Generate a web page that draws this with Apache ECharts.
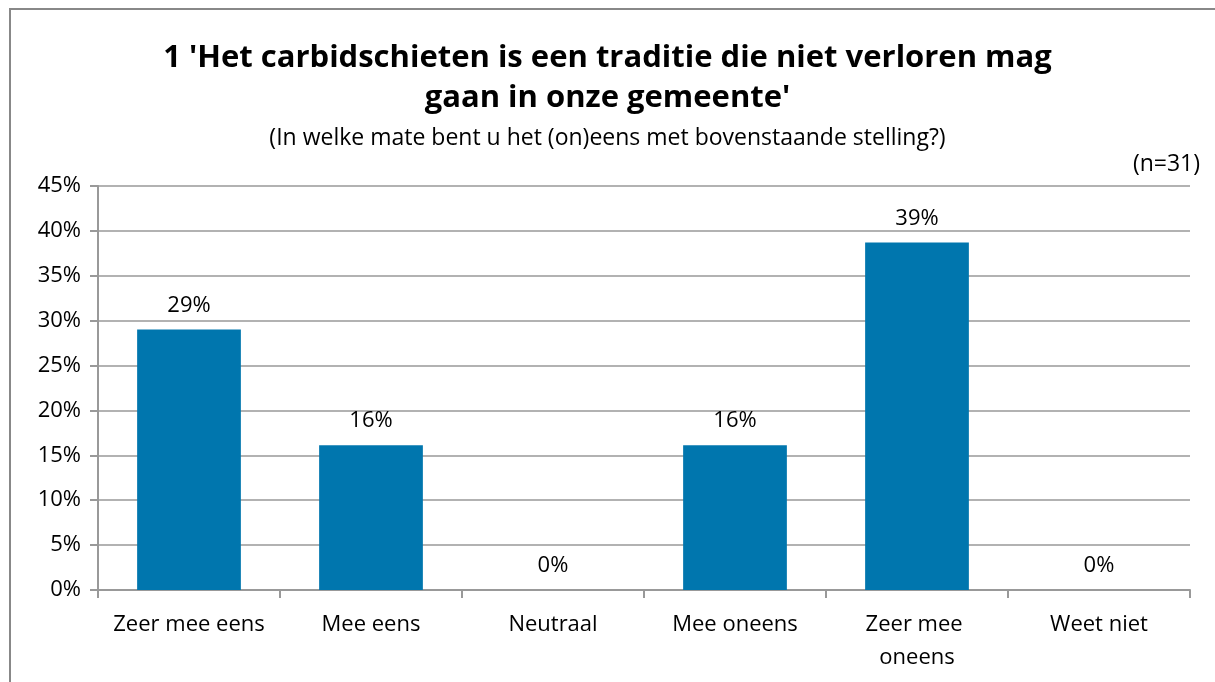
<!DOCTYPE html>
<html lang="nl">
<head>
    <meta charset="UTF-8">
    <title>Carbidschieten</title>
    <script type="text/javascript" src="https://cdn.jsdelivr.net/npm/echarts@6/dist/echarts.min.js"></script>
    <style>
        html, body { margin: 0; padding: 0; background: #fff; }
    </style>
</head>
<body>
<div id="chart" style="width: 1215px;height: 682px"></div>
<script type="text/javascript">
    // gegevens
    var categories = ['Zeer mee eens', 'Mee eens', 'Neutraal', 'Mee oneens', 'Zeer mee oneens', 'Weet niet'];
    var percentages = [29.03, 16.13, 0, 16.13, 38.71, 0];
    var yTicks = [0, 5, 10, 15, 20, 25, 30, 35, 40, 45];
    var titleLines = ["1 'Het carbidschieten is een traditie die niet verloren mag", "gaan in onze gemeente'"];

    var font = 'Open Sans';
    var myChart = echarts.init(document.getElementById('chart'));

    var option = {
        animation: false,
        backgroundColor: '#fff',
        color: ['#0076ae'],
        textStyle: { fontFamily: font },
        title: [
            {
                text: titleLines[0],
                left: 'center',
                top: 38,
                textStyle: { fontFamily: font, fontSize: 31, fontWeight: 'bold', color: '#000' }
            },
            {
                text: titleLines[1],
                left: 'center',
                top: 78,
                textStyle: { fontFamily: font, fontSize: 31, fontWeight: 'bold', color: '#000' }
            },
            {
                text: '(In welke mate bent u het (on)eens met bovenstaande stelling?)',
                left: 'center',
                top: 122,
                textStyle: { fontFamily: font, fontSize: 23, fontWeight: 'normal', color: '#000' }
            },
            {
                text: '(n=31)',
                right: 10,
                top: 148,
                textStyle: { fontFamily: font, fontSize: 23, fontWeight: 'normal', color: '#000' }
            }
        ],
        graphic: [
            {
                type: 'rect',
                shape: { x: 10, y: 9, width: 1230, height: 700 },
                style: { fill: 'none', stroke: '#888', lineWidth: 2 },
                silent: true
            }
        ],
        grid: {
            left: 98,
            right: 25,
            top: 186,
            bottom: 92,
            containLabel: false
        },
        xAxis: {
            type: 'category',
            data: categories,
            axisLine: { show: true, lineStyle: { color: '#999', width: 2 } },
            axisTick: { show: true, length: 8, lineStyle: { color: '#999', width: 2 } },
            axisLabel: {
                color: '#000',
                fontSize: 22,
                fontFamily: font,
                margin: 18,
                lineHeight: 33,
                width: 162,
                overflow: 'break',
                interval: 0
            }
        },
        yAxis: {
            type: 'value',
            min: 0,
            max: 45,
            interval: 5,
            axisLine: { show: true, lineStyle: { color: '#999', width: 2 } },
            axisTick: { show: true, length: 8, lineStyle: { color: '#999', width: 2 } },
            axisLabel: {
                color: '#000',
                fontSize: 22,
                fontFamily: font,
                margin: 17,
                formatter: function (v) {
                    return yTicks.indexOf(v) >= 0 ? v + '%' : '';
                }
            },
            splitLine: { show: true, lineStyle: { color: '#999', width: 1.5 } }
        },
        series: [
            {
                type: 'bar',
                data: percentages,
                barWidth: '57%',
                label: {
                    show: true,
                    position: 'top',
                    distance: 13,
                    color: '#000',
                    fontSize: 22,
                    fontFamily: font,
                    formatter: function (p) {
                        return Math.round(p.value) + '%';
                    }
                }
            }
        ]
    };
    option && myChart.setOption(option);
</script>
</body>
</html>
